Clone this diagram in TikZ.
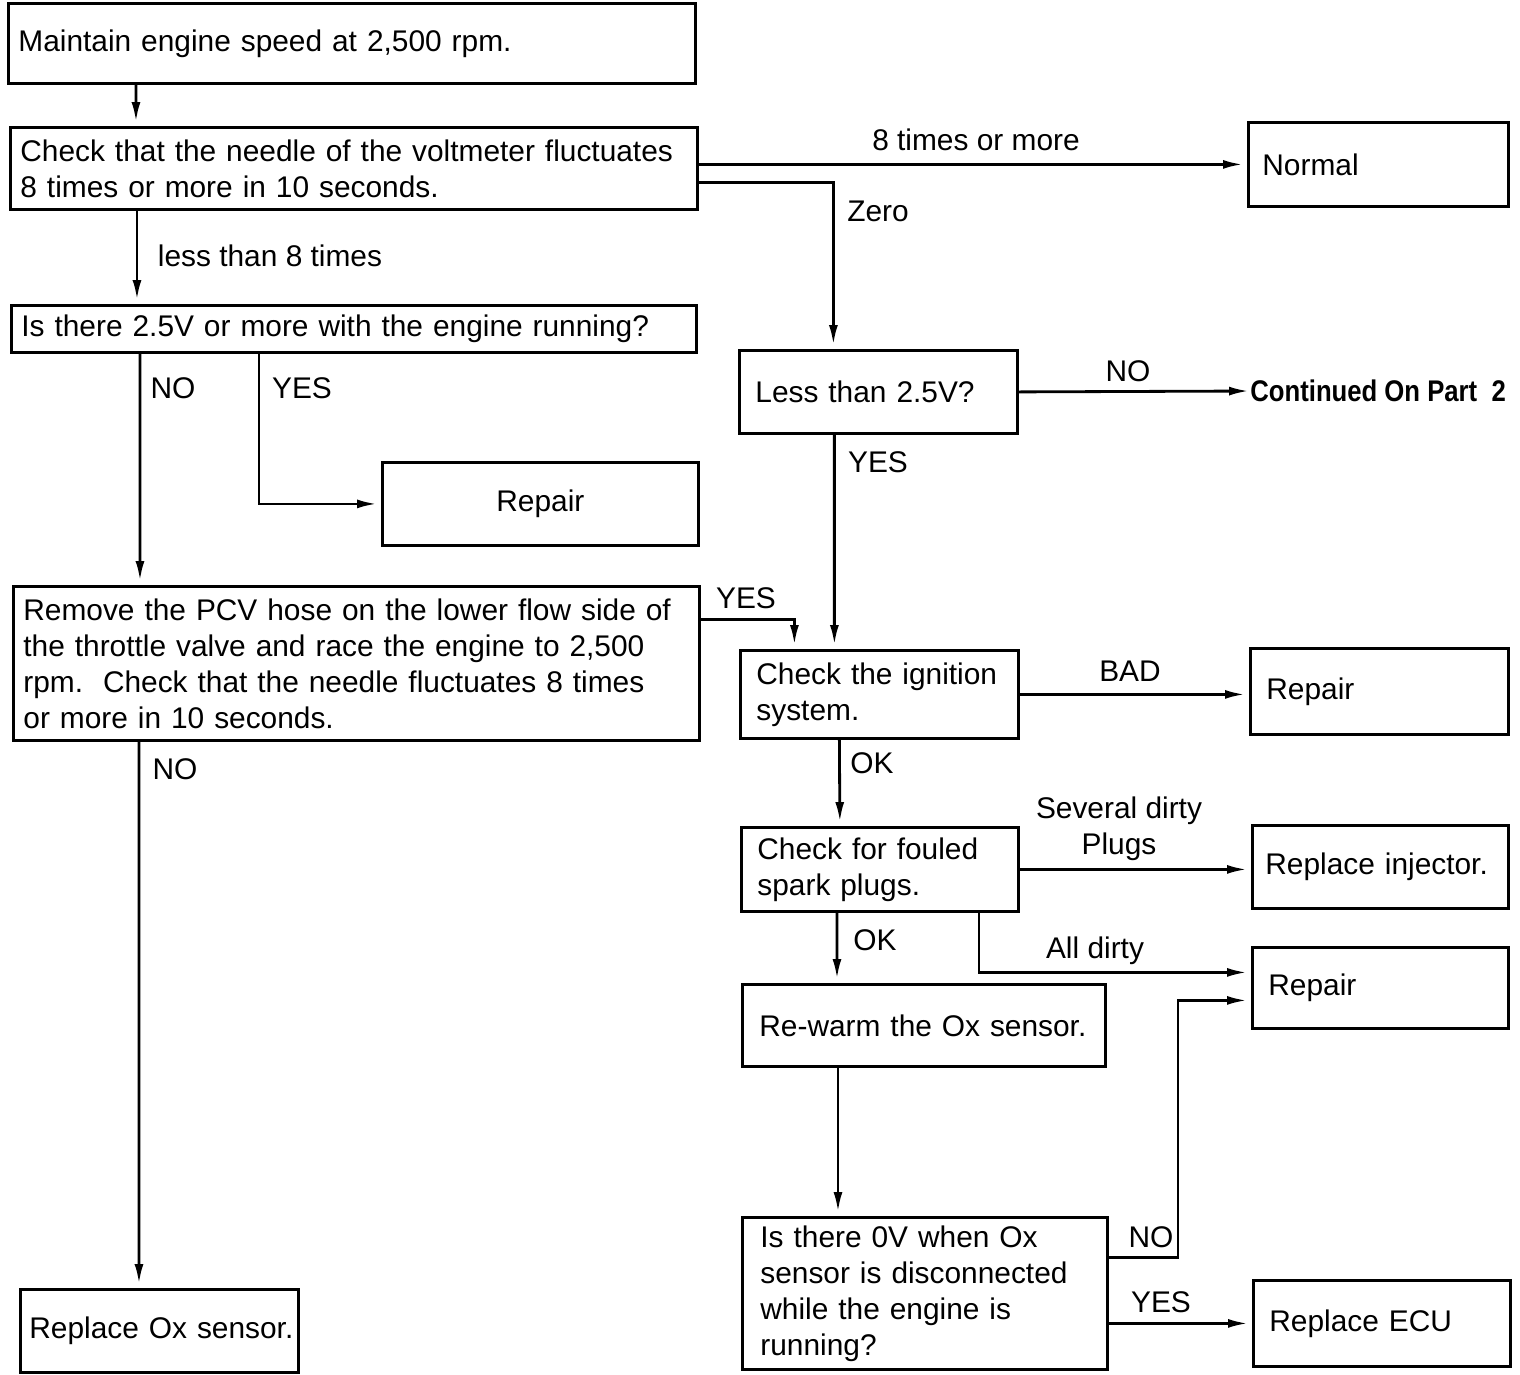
\documentclass[tikz,border=0pt]{standalone}
\usepackage{fontspec}
\setmainfont{Liberation Sans}
\newfontfamily\contfont[FakeStretch=0.86]{Liberation Sans}
\usetikzlibrary{arrows.meta}
\tikzset{
  stepbox/.style={draw, line width=1.6pt, anchor=north west, inner xsep=0.32cm, inner ysep=0pt, align=left},
  arr/.style={line width=1.6pt, -{Latex[length=0.4cm,width=0.18cm]}, shorten >=0.08cm},
  lbl/.style={inner sep=0pt},
  every node/.style={font=\fontsize{17pt}{20.5pt}\selectfont}
}
\begin{document}
\begin{tikzpicture}[x=0.02cm, y=-0.02cm]
  \useasboundingbox (0,0) rectangle (1520,1374);
  \node[stepbox, inner xsep=0.2cm, text width=13.34cm, minimum height=1.6cm] (start) at (7,2) {Maintain engine speed at 2,500 rpm.};
  \node[stepbox, inner xsep=0.2cm, text width=13.34cm, minimum height=1.64cm] (check) at (9,126) {Check that the needle of the voltmeter fluctuates\\8 times or more in 10 seconds.};
  \node[stepbox, inner xsep=0.28cm, text width=4.64cm, minimum height=1.68cm] (normal) at (1247,121) {Normal};
  \node[stepbox, inner xsep=0.2cm, text width=13.3cm, minimum height=0.94cm] (volts) at (10,304) {Is there 2.5V or more with the engine running?};
  \node[stepbox, text width=4.92cm, minimum height=1.66cm] (less) at (738,349) {Less than 2.5V?};
  \node[lbl, anchor=west, font=\fontsize{17pt}{20.5pt}\contfont\bfseries] (cont) at (1250,391) {Continued On Part \ 2};
  \node[stepbox, align=center, text width=5.68cm, minimum height=1.66cm] (repair) at (381,461) {Repair};
  \node[stepbox, inner xsep=0.2cm, text width=13.32cm, minimum height=3.08cm] (pcv) at (12,585) {Remove the PCV hose on the lower flow side of\\the throttle valve and race the engine to 2,500\\rpm.\ \ Check that the needle fluctuates 8 times\\or more in 10 seconds.};
  \node[stepbox, text width=4.92cm, minimum height=1.76cm] (ignition) at (739,649) {Check the ignition\\system.};
  \node[stepbox, text width=4.52cm, minimum height=1.72cm] (repairb) at (1249,647) {Repair};
  \node[stepbox, text width=4.9cm, minimum height=1.68cm] (fouled) at (740,826) {Check for fouled\\spark plugs.};
  \node[stepbox, inner xsep=0.26cm, text width=4.6cm, minimum height=1.66cm] (injector) at (1251,824) {\mbox{Replace injector.}};
  \node[stepbox, text width=4.48cm, minimum height=1.62cm] (repairc) at (1251,946) {Repair};
  \node[stepbox, inner xsep=0.34cm, text width=6.58cm, minimum height=1.64cm] (rewarm) at (741,983) {Re-warm the Ox sensor.};
  \node[stepbox, inner xsep=0.36cm, text width=6.58cm, minimum height=3.04cm] (zerov) at (741,1216) {Is there 0V when Ox\\sensor is disconnected\\while the engine is\\running?};
  \node[stepbox, text width=4.5cm, minimum height=1.72cm] (ecu) at (1252,1279) {Replace ECU};
  \node[stepbox, inner xsep=0.18cm, text width=5.2cm, minimum height=1.66cm] (replox) at (19,1288) {\mbox{Replace Ox sensor.}};
  \draw[arr] ([xshift=2.58cm]start.south west) -- ([xshift=2.54cm]check.north west);
  \draw[arr] (check.east |- normal.west) -- (normal.west);
  \draw[arr] ([yshift=-0.28cm]check.east) -| ([xshift=-0.9cm]less.north);
  \draw[arr] ([xshift=2.56cm]check.south west) -- ([xshift=2.54cm]volts.north west);
  \draw[arr] ([xshift=2.6cm]volts.south west) -- ([xshift=2.56cm]pcv.north west);
  \draw[arr] ([xshift=4.98cm]volts.south west) |- (repair.west);
  \draw[arr, shorten >=0.02cm] (less.east) -- (cont.west);
  \draw[arr] ([xshift=-0.88cm]less.south) -- ([xshift=-0.9cm]ignition.north);
  \draw[arr] ([yshift=0.88cm]pcv.east) -| ([xshift=-1.7cm]ignition.north);
  \draw[arr] ([xshift=2.54cm]pcv.south west) -- ([xshift=2.4cm]replox.north west);
  \draw[arr] (ignition.east) -- (ignition.east -| repairb.west);
  \draw[arr] ([xshift=-0.8cm]ignition.south) -- ([xshift=-0.8cm]fouled.north);
  \draw[arr] (fouled.east) -- (fouled.east -| injector.west);
  \draw[arr] ([xshift=4.78cm]fouled.south west) |- ([yshift=0.31cm]repairc.west);
  \draw[arr] ([xshift=1.94cm]fouled.south west) -- ([xshift=1.92cm]rewarm.north west);
  \draw[arr] ([xshift=1.94cm]rewarm.south west) -- ([xshift=1.94cm]zerov.north west);
  \draw[arr] ([yshift=0.72cm]zerov.east) -| ([xshift=-1.46cm,yshift=-0.25cm]repairc.west) -- ([yshift=-0.25cm]repairc.west);
  \draw[arr] (zerov.east |- ecu.west) -- (ecu.west);
  \node[lbl] (l8more) at (976,140) {8 times or more};
  \node[lbl] (lzero) at (878,211) {Zero};
  \node[lbl] (lless8) at (270,256) {less than 8 times};
  \node[lbl] (lno1) at (173,388) {NO};
  \node[lbl] (lyes1) at (302,388) {YES};
  \node[lbl] (lno2) at (1128,371) {NO};
  \node[lbl] (lyes2) at (878,462) {YES};
  \node[lbl] (lyes3) at (746,598) {YES};
  \node[lbl] (lno3) at (175,769) {NO};
  \node[lbl] (lbad) at (1130,671) {BAD};
  \node[lbl] (lok1) at (872,763) {OK};
  \node[lbl, align=center] (lseveral) at (1119,829) {Several dirty\\Plugs};
  \node[lbl] (lok2) at (875,940) {OK};
  \node[lbl] (lalldirty) at (1095,951) {All dirty};
  \node[lbl] (lno4) at (1151,1237) {NO};
  \node[lbl] (lyes4) at (1161,1302) {YES};
\end{tikzpicture}
\end{document}
